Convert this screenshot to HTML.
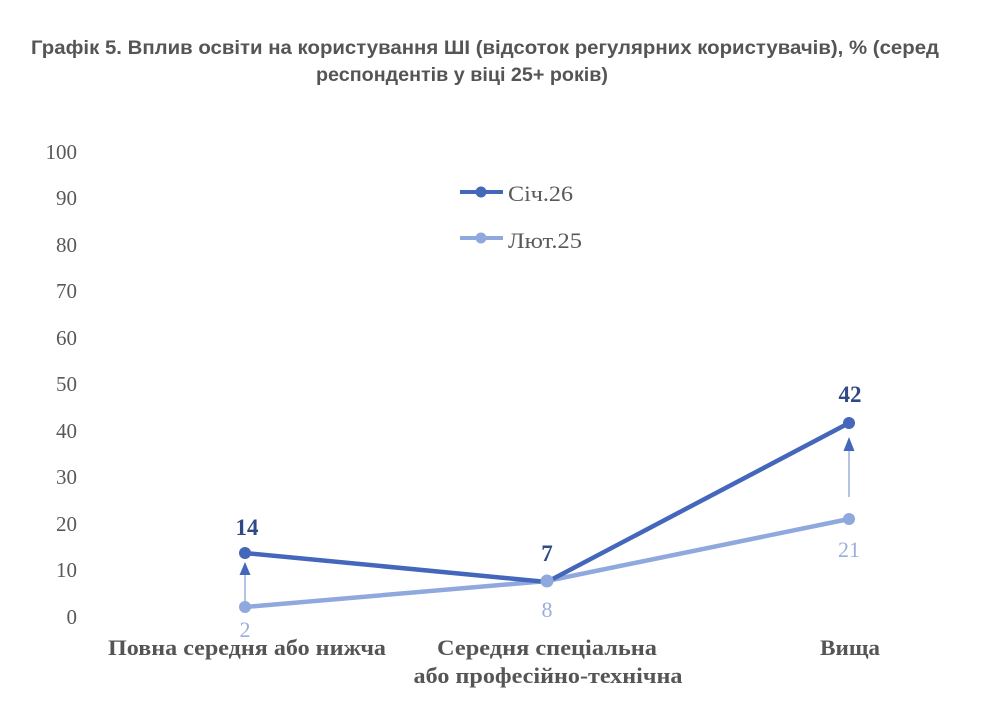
<!DOCTYPE html>
<html><head><meta charset="utf-8"><style>
html,body{margin:0;padding:0;background:#fff;}
svg{display:block;}
</style></head><body>
<svg width="999" height="726" viewBox="0 0 999 726" xmlns="http://www.w3.org/2000/svg">
<rect width="999" height="726" fill="#fff"/>
<g font-family="Liberation Sans, Arial, sans-serif" font-weight="bold" font-size="19" fill="#555" text-anchor="middle">
<text x="485" y="54" textLength="908" lengthAdjust="spacingAndGlyphs">Графік 5. Вплив освіти на користування ШІ (відсоток регулярних користувачів), % (серед</text>
<text x="462" y="81" textLength="292" lengthAdjust="spacingAndGlyphs">респондентів у віці 25+ років)</text>
</g>
<g font-family="Liberation Serif, serif" font-size="21" fill="#595959" text-anchor="end">
<text x="77" y="159">100</text>
<text x="77" y="205">90</text>
<text x="77" y="252">80</text>
<text x="77" y="298">70</text>
<text x="77" y="345">60</text>
<text x="77" y="391">50</text>
<text x="77" y="438">40</text>
<text x="77" y="484">30</text>
<text x="77" y="531">20</text>
<text x="77" y="577">10</text>
<text x="77" y="624">0</text>
</g>
<!-- legend -->
<line x1="460" y1="192" x2="503" y2="192" stroke="#4466BB" stroke-width="4"/>
<circle cx="481" cy="192" r="5.5" fill="#4466BB"/>
<line x1="460" y1="238" x2="503" y2="238" stroke="#8FA8DD" stroke-width="4"/>
<circle cx="481" cy="238" r="5.5" fill="#8FA8DD"/>
<g font-family="Liberation Serif, serif" font-size="22" fill="#595959">
<text x="508" y="201" textLength="65" lengthAdjust="spacingAndGlyphs">Січ.26</text>
<text x="508" y="248" textLength="74" lengthAdjust="spacingAndGlyphs">Лют.25</text>
</g>
<!-- arrows -->
<line x1="245" y1="603" x2="245" y2="572" stroke="#9AAEDD" stroke-width="1.5"/>
<polygon points="245,562 239.5,575 250.5,575" fill="#4466BB"/>
<line x1="849" y1="497" x2="849" y2="450" stroke="#9AAEDD" stroke-width="1.5"/>
<polygon points="849,437 843.5,451 854.5,451" fill="#4466BB"/>
<!-- series -->
<polyline points="245,607 547,581 849,519" fill="none" stroke="#8FA8DD" stroke-width="4.5"/>
<polyline points="245,553 547,582 849,423" fill="none" stroke="#4466BB" stroke-width="4.5"/>
<circle cx="245" cy="607" r="6" fill="#8FA8DD"/>
<circle cx="849" cy="519" r="6" fill="#8FA8DD"/>
<circle cx="245" cy="553" r="6" fill="#4466BB"/>
<circle cx="849" cy="423" r="6" fill="#4466BB"/>
<circle cx="547" cy="581" r="6.5" fill="#8FA8DD"/>
<!-- data labels -->
<g font-family="Liberation Serif, serif" font-size="23" font-weight="bold" fill="#2F4A86" text-anchor="middle">
<text x="247" y="535">14</text>
<text x="547" y="561">7</text>
<text x="850" y="402">42</text>
</g>
<g font-family="Liberation Serif, serif" font-size="22" fill="#9AAEDD" text-anchor="middle">
<text x="245" y="637">2</text>
<text x="547" y="617">8</text>
<text x="849" y="557">21</text>
</g>
<!-- category labels -->
<g font-family="Liberation Serif, serif" font-size="22" font-weight="bold" fill="#555" text-anchor="middle">
<text x="247" y="655" textLength="278" lengthAdjust="spacingAndGlyphs">Повна середня або нижча</text>
<text x="547" y="655" textLength="220" lengthAdjust="spacingAndGlyphs">Середня спеціальна</text>
<text x="548" y="683" textLength="269" lengthAdjust="spacingAndGlyphs">або професійно-технічна</text>
<text x="850" y="655" textLength="60" lengthAdjust="spacingAndGlyphs">Вища</text>
</g>
</svg>
</body></html>
